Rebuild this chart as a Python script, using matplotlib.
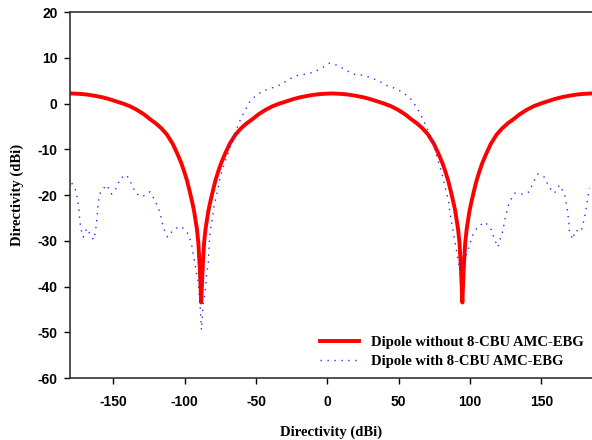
import matplotlib
matplotlib.use('Agg')
import matplotlib.pyplot as plt

# dipole without AMC-EBG (red)
red_ang = [-180, -173.5, -168.5, -163.5, -158.5, -153.5, -148.5, -143.5, -138.5, -133.5,
           -128.5, -124.5, -120.5, -116.5, -112.5, -108.5, -105.5, -102.5, -100.5, -98.5,
           -96.5, -94.5, -93.5, -92.5, -91.5, -90.5, -89.5, -88.5, -87.5, -86.5, -85.5,
           -84.5, -83.5, -82.5, -80.5, -78.5, -76.5, -74.5, -71.5, -68.5, -64.5, -60.5,
           -56.5, -52.5, -48.5, -43.5, -38.5, -33.5, -28.5, -23.5, -18.5, -13.5, -8.5,
           -3.5, 3, 9.6, 14.6, 19.6, 24.6, 29.6, 34.6, 39.6, 44.6, 49.6, 54.6, 58.6, 62.6,
           66.6, 70.6, 74.6, 77.6, 80.6, 82.6, 84.6, 86.6, 88.6, 89.6, 90.6, 91.6, 92.6,
           93.6, 94.6, 95.6, 96.6, 97.6, 98.6, 99.6, 100.6, 102.6, 104.6, 106.6, 108.6,
           111.6, 114.6, 118.6, 122.6, 126.6, 130.6, 134.6, 139.6, 144.6, 149.6, 154.6,
           159.6, 164.6, 169.6, 174.6, 179.6, 185]
red_val = [2.2, 2.1, 1.95, 1.7, 1.4, 1.0, 0.5, 0.0, -0.6, -1.4,
           -2.4, -3.4, -4.3, -5.4, -6.8, -8.8, -10.8, -13.0, -14.8, -16.8,
           -19.3, -22.0, -23.5, -25.5, -27.5, -30.5, -36.0, -43.5, -36.0, -30.5, -27.5,
           -25.5, -23.5, -22.0, -19.3, -16.8, -14.8, -13.0, -10.8, -8.8, -6.8, -5.4,
           -4.3, -3.4, -2.4, -1.4, -0.6, 0.0, 0.5, 1.0, 1.4, 1.7, 1.95,
           2.1, 2.2, 2.1, 1.95, 1.7, 1.4, 1.0, 0.5, 0.0, -0.6, -1.4, -2.4, -3.4, -4.3,
           -5.4, -6.8, -8.8, -10.8, -13.0, -14.8, -16.8, -19.3, -22.0, -23.5, -25.5, -27.5, -30.5,
           -36.0, -43.5, -36.0, -30.5, -27.5, -25.5, -23.5, -22.0, -19.3, -16.8, -14.8, -13.0,
           -10.8, -8.8, -6.8, -5.4, -4.3, -3.4, -2.4, -1.4, -0.6, 0.0, 0.5,
           1.0, 1.4, 1.7, 1.95, 2.1, 2.2]

# dipole with 8-CBU AMC-EBG (blue dotted)
blue_ang = [-179.3, -176.3, -175.1, -174.2, -173.7, -172.8, -171.2, -168.8, -166.5, -164,
            -162.5, -161.8, -161.1, -160.7, -159.1, -154.8, -151.3, -147.8, -145.5, -140.8,
            -137.3, -134.5, -129.9, -124.5, -121, -118, -116.3, -114.9, -112.1, -107.5,
            -102.3, -97.6, -95.3, -94.2, -93, -91.8, -90.6, -89.5, -89, -88.3, -87.1, -85.9,
            -85.2, -84.8, -83.6, -83.3, -82.9, -82.6, -81.7, -80.5, -79.6, -78.2, -76.6,
            -75.4, -73.5, -71.2, -68.9, -66.5, -64.2, -61.4, -57.9, -54.4, -49.7, -43.9,
            -38.1, -32.2, -26.9, -21.7, -15.9, -10.1, -4.2, 1.1, 7.4, 12.8, 18.4, 24.9,
            30.8, 36.1, 42, 47.5, 53, 58.1, 62.3, 65.8, 68.9, 71.7, 74.7, 76.3, 78.2, 80.3,
            81.7, 83.4, 85, 85.7, 86.9, 88, 89.2, 90.3, 91.5, 92.7, 95, 97.4, 99.7, 101.8,
            105.5, 110.5, 114.9, 117.2, 119.5, 120.7, 123, 124.2, 125.8, 127.7, 131.2,
            136.6, 141.7, 144, 147.5, 152.2, 155.2, 159.2, 162.7, 166.2, 167.4, 168.5,
            169.2, 169.7, 172, 173.9, 177.9, 180.2, 181.4, 182.5, 183.7]
blue_val = [-17.4, -19.1, -21.2, -23.4, -25.5, -27.5, -29.2, -27.3, -28.5, -29.8,
            -27.7, -25.6, -23.4, -21.5, -19.3, -17.8, -19.8, -18.4, -16.4, -15.6,
            -17.6, -19.6, -20.4, -19.3, -21.1, -23.3, -25.3, -27.3, -29.2, -27.4,
            -26.9, -28.5, -30.7, -32.7, -34.9, -37.1, -38.9, -43.3, -45.4, -49.5, -43.7, -41.5,
            -39.5, -37.3, -35.3, -33.1, -31.1, -29.1, -26.9, -24.9, -22.7, -20.6, -18.5,
            -16.4, -14.2, -12.2, -10.2, -8.0, -6.0, -3.8, -1.6, 0.4, 1.9, 2.9,
            3.5, 4.2, 5.3, 6.1, 6.4, 6.8, 7.7, 8.8, 8.3, 7.3, 6.4, 6.2,
            5.6, 4.9, 3.9, 3.3, 2.4, 1.1, -0.7, -2.7, -4.7, -6.9, -8.9, -11.1, -13.1, -15.3,
            -17.3, -19.4, -21.5, -23.5, -25.7, -27.8, -29.8, -32.0, -34.1, -36.2, -35.1, -33.0, -30.9, -28.8,
            -26.9, -25.9, -27.6, -29.7, -31.4, -30.0, -27.8, -25.7, -23.5, -21.5, -19.6,
            -19.8, -19.3, -17.4, -15.4, -16.1, -18.2, -19.6, -17.8, -19.8, -21.8, -23.9,
            -25.8, -28.0, -29.7, -27.7, -28.0, -25.1, -22.9, -20.7, -18.5]

xticks = [-150, -100, -50, 0, 50, 100, 150]
yticks = [-60, -50, -40, -30, -20, -10, 0, 10, 20]

fig = plt.figure(figsize=(5.92, 4.40), dpi=100)
ax = fig.add_axes([70 / 592, 1 - 378 / 440, 1 - 70 / 592, (378 - 12) / 440])

ax.plot(red_ang, red_val, color='#ff0000', linewidth=2.8,
        label='Dipole without 8-CBU AMC-EBG')
ax.plot(blue_ang, blue_val, color='#2a2aff', linewidth=1.0, linestyle=(0, (1, 4)),
        label='Dipole with 8-CBU AMC-EBG')

ax.set_xlim(-180.5, 185.5)
ax.set_ylim(-60, 20)
ax.set_xticks(xticks)
ax.set_yticks(yticks)

tick_font = {'family': 'Liberation Sans', 'weight': 'bold', 'size': 10}
ax.set_xticklabels([str(t) for t in xticks], fontdict=tick_font)
ax.set_yticklabels([str(t) for t in yticks], fontdict=tick_font)
ax.tick_params(axis='x', direction='out', length=4, width=1, pad=8)
ax.tick_params(axis='y', direction='out', length=4, width=1, pad=5)

for s in ['left', 'bottom', 'top']:
    ax.spines[s].set_linewidth(1.2)
    ax.spines[s].set_color('#333333')
ax.spines['right'].set_visible(False)

lab_font = {'family': 'Liberation Serif', 'weight': 'bold', 'size': 10.5}
ax.set_xlabel('Directivity (dBi)', fontdict=lab_font, labelpad=12)
ax.set_ylabel('Directivity (dBi)', fontdict=lab_font, labelpad=10)

# legend bottom right, no frame
ax.legend(loc='lower right', bbox_to_anchor=(591 / 592, 1 - 375 / 440),
          bbox_transform=fig.transFigure, frameon=False, borderpad=0,
          prop={'family': 'Liberation Serif', 'weight': 'bold', 'size': 10.5},
          handlelength=2.7, handletextpad=0.8, labelspacing=0.4)

fig.savefig('out.png', dpi=100)
